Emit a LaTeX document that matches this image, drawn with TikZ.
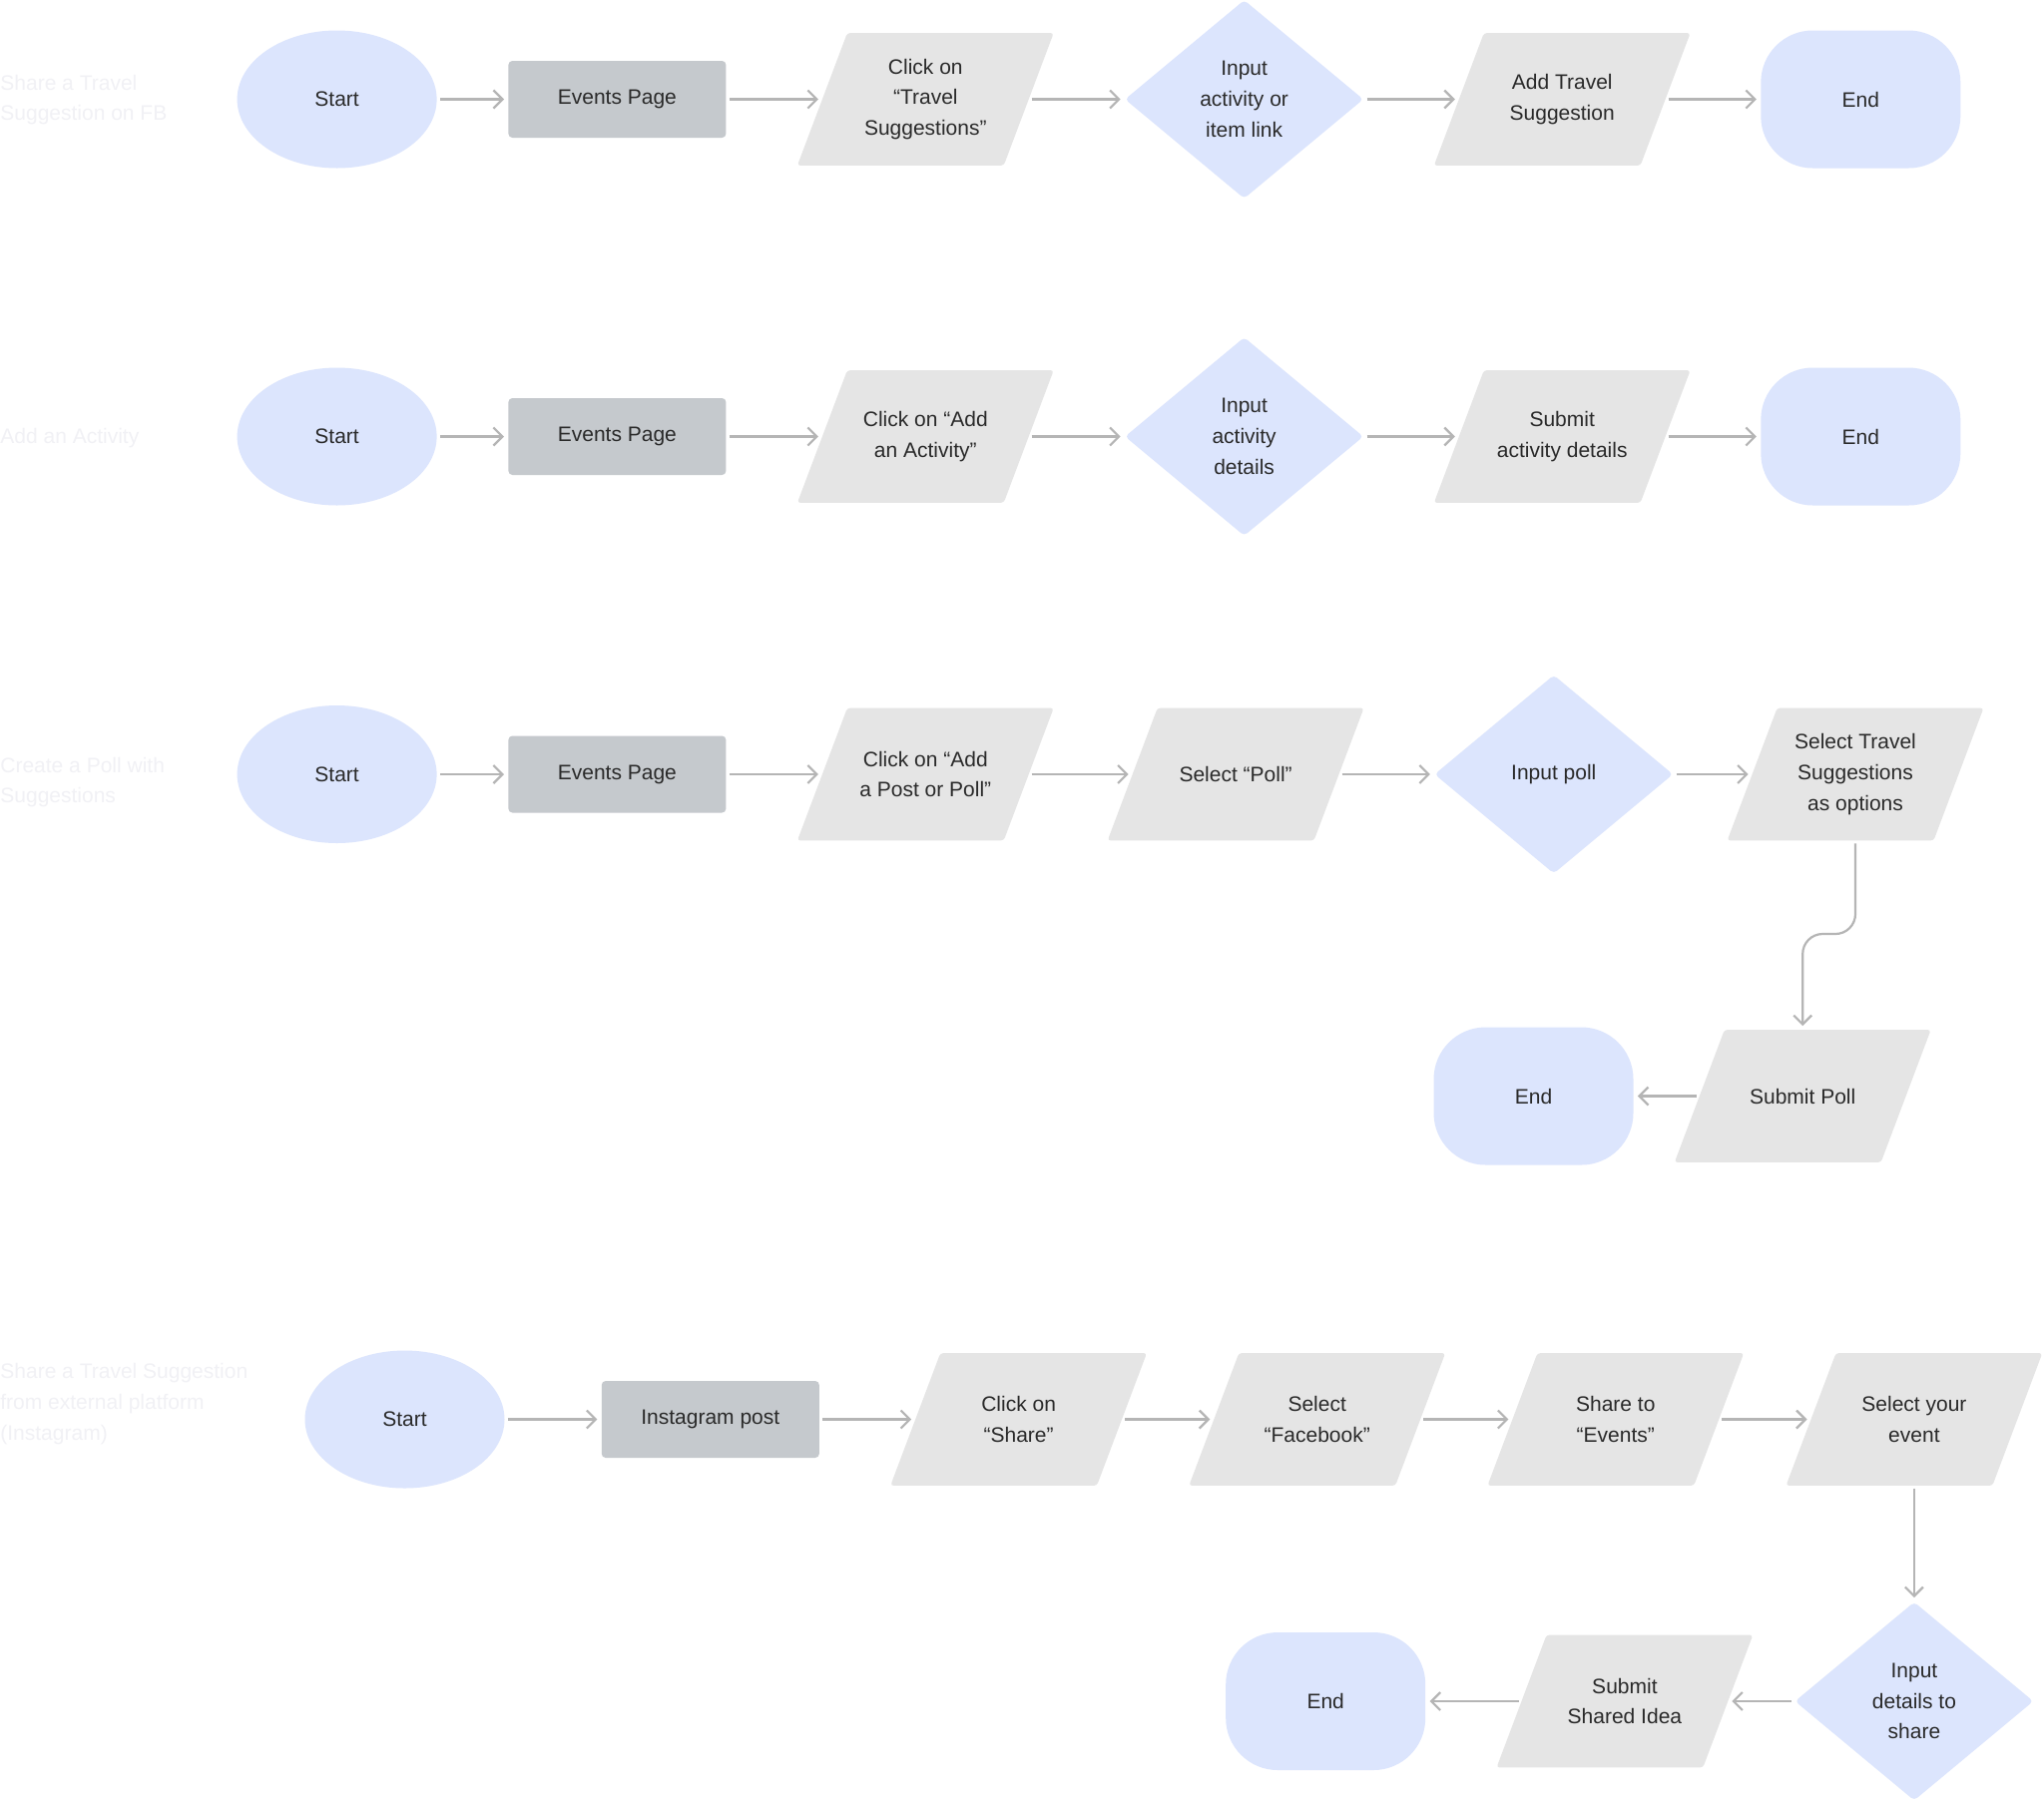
\documentclass[tikz,border=0pt]{standalone}
\usepackage{fontspec}
\setmainfont{Liberation Sans}
\usetikzlibrary{shapes.geometric,arrows.meta,calc}
\definecolor{blueF}{HTML}{DCE5FD}
\definecolor{grayF}{HTML}{C5C9CD}
\definecolor{paraF}{HTML}{E5E5E5}
\definecolor{lineC}{HTML}{B5B5B5}
\definecolor{txtC}{HTML}{2A2A2A}
\definecolor{faint}{HTML}{F1F1F5}
\pgfdeclarelayer{bg}\pgfsetlayers{bg,main}
\begin{document}
\begin{tikzpicture}[x=0.5pt,y=-0.5pt,
  every node/.style={font=\fontsize{10.5}{15.4}\selectfont, text=txtC, align=center, inner sep=0pt},
  startnode/.style={ellipse, fill=blueF, minimum width=100pt, minimum height=69pt},
  pagenode/.style={rectangle, fill=grayF, rounded corners=2pt, minimum width=109pt, minimum height=38.5pt},
  paranode/.style={rectangle, minimum width=103pt, minimum height=66pt},
  decnode/.style={diamond, fill=blueF, aspect=1.2, rounded corners=2pt, minimum width=119.5pt, minimum height=99.5pt},
  endnode/.style={rectangle, fill=blueF, rounded corners=26pt, minimum width=100pt, minimum height=69pt},
  title/.style={anchor=west, align=left, text=faint},
  arr/.style={draw=lineC, line width=1.1pt, -{Straight Barb[length=4.5pt,width=9pt]}, shorten <=1.5pt, shorten >=2pt}
]
\useasboundingbox (0,0) rectangle (2048,1805);

% titles
\node[title] (t1) at (0,100) {Share a Travel\\Suggestion on FB};
\node[title] (t2) at (0,439) {Add an Activity};
\node[title] (t3) at (0,784) {Create a Poll with\\Suggestions};
\node[title] (t4) at (0,1407) {Share a Travel Suggestion\\from external platform\\(Instagram)};

% row 1
\node[startnode] (s1) at (337.6,99.5) {Start};
\node[pagenode] (e1) at (618.4,99.5) {Events Page};
\node[paranode] (p1a) at (927.3,99.5) {Click on\\“Travel\\Suggestions”};
\node[decnode] (d1) at (1246.6,99.5) {Input\\activity or\\item link};
\node[paranode] (p1b) at (1565.2,99.5) {Add Travel\\Suggestion};
\node[endnode] (n1) at (1864.3,99.5) {End};

% row 2
\node[startnode] (s2) at (337.6,437.5) {Start};
\node[pagenode] (e2) at (618.4,437.5) {Events Page};
\node[paranode] (p2a) at (927.3,437.5) {Click on “Add\\an Activity”};
\node[decnode] (d2) at (1246.6,437.5) {Input\\activity\\details};
\node[paranode] (p2b) at (1565.2,437.5) {Submit\\activity details};
\node[endnode] (n2) at (1864.3,437.5) {End};

% row 3
\node[startnode] (s3) at (337.6,776) {Start};
\node[pagenode] (e3) at (618.4,776) {Events Page};
\node[paranode] (p3a) at (927.3,776) {Click on “Add\\a Post or Poll”};
\node[paranode] (p3b) at (1238.1,776) {Select “Poll”};
\node[decnode] (d3) at (1556.8,776) {Input poll};
\node[paranode] (p3c) at (1859,776) {Select Travel\\Suggestions\\as options};
\node[paranode] (p3d) at (1806.2,1098.5) {Submit Poll};
\node[endnode] (n3) at (1536.5,1098.5) {End};
\coordinate (k3) at (1859,936);

% row 4
\node[startnode] (s4) at (405.5,1422.5) {Start};
\node[pagenode] (e4) at (711.8,1422.5) {Instagram post};
\node[paranode] (p4a) at (1020.6,1422.5) {Click on\\“Share”};
\node[paranode] (p4b) at (1319.7,1422.5) {Select\\“Facebook”};
\node[paranode] (p4c) at (1618.8,1422.5) {Share to\\“Events”};
\node[paranode] (p4d) at (1917.9,1422.5) {Select your\\event};
\node[decnode] (d4) at (1917.9,1705) {Input\\details to\\share};
\node[paranode] (p4e) at (1627.9,1705) {Submit\\Shared Idea};
\node[endnode] (n4) at (1328.2,1705) {End};

\begin{pgfonlayer}{bg}
\fill[white] (0,0) rectangle (2048,1805);
\foreach \n in {p1a,p1b,p2a,p2b,p3a,p3b,p3c,p3d,p4a,p4b,p4c,p4d,p4e}
  \fill[paraF, rounded corners=1.5pt] ([xshift=-12.5pt]\n.south west) -- ([xshift=12.5pt]\n.north west) -- ([xshift=12.5pt]\n.north east) -- ([xshift=-12.5pt]\n.south east) -- cycle;
\end{pgfonlayer}

% connectors
\draw[arr] (s1) -- (e1);
\draw[arr] (e1) -- (p1a);
\draw[arr] (p1a) -- (d1);
\draw[arr] (d1) -- (p1b);
\draw[arr] (p1b) -- (n1);

\draw[arr] (s2) -- (e2);
\draw[arr] (e2) -- (p2a);
\draw[arr] (p2a) -- (d2);
\draw[arr] (d2) -- (p2b);
\draw[arr] (p2b) -- (n2);

\draw[arr] (s3) -- (e3);
\draw[arr] (e3) -- (p3a);
\draw[arr] (p3a) -- (p3b);
\draw[arr] (p3b) -- (d3);
\draw[arr] (d3) -- (p3c);
\draw[arr, rounded corners=10pt] (p3c.south) -- (p3c.south |- k3) -- (p3d.north |- k3) -- (p3d.north);
\draw[arr] (p3d) -- (n3);

\draw[arr] (s4) -- (e4);
\draw[arr] (e4) -- (p4a);
\draw[arr] (p4a) -- (p4b);
\draw[arr] (p4b) -- (p4c);
\draw[arr] (p4c) -- (p4d);
\draw[arr] (p4d) -- (d4);
\draw[arr] (d4) -- (p4e);
\draw[arr] (p4e) -- (n4);
\end{tikzpicture}
\end{document}
